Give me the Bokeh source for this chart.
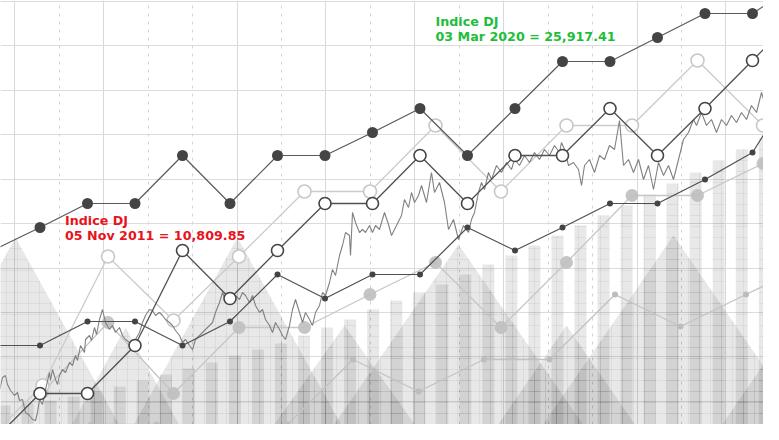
from bokeh.plotting import figure
from bokeh.models import Range1d, Grid, FixedTicker, Label
from bokeh.embed import file_html
from bokeh.resources import INLINE

# ---------------- data ----------------
# time axis positions of the sampled series
x_weekly = [i * 47.5 for i in range(18)]
x_monthly_c = [-15.5 + 65.5 * i for i in range(14)]
x_monthly_e = [50 + 65.5 * i for i in range(13)]
x_monthly_f = [33 + 65.5 * i for i in range(13)]
x_volume = [12 + 23.04 * i for i in range(34)]

# series levels
lev_a = [182, 205, 229, 229, 277, 229, 277, 277, 300, 324, 277, 324, 371, 371, 395, 419, 419, 450]
lev_b = [-9, 39, 39, 87, 182, 134, 182, 229, 229, 277, 229, 277, 277, 324, 277, 324, 372, 420]
lev_d = [87, 87, 111, 111, 87, 111, 158, 134, 158, 158, 205, 182, 205, 229, 229, 253, 280, 355]
lev_c = [-18, 47, 176, 112, 176, 241, 241, 307, 241, 307, 307, 372, 307, 372]
lev_e = [40, 110, 39, 105, 105, 138, 170, 105, 170, 237, 237, 269, 300]
lev_f = [-28, 8, 8, -18, 8, 73, 41, 73, 73, 138, 106, 138, 170]
volume = [27, 29, 32, 36, 41, 46, 52, 58, 64, 70, 77, 83, 89, 97, 105, 113, 123,
          132, 140, 148, 158, 168, 177, 187, 197, 207, 217, 227, 238, 249, 260, 272, 283, 294]

# background "mountains": peak time, peak level, half width
mount_x = [23, 133, 245, 352, 466, 574, 681, 800]
mount_peak = [195, 105, 195, 107, 188, 107, 197, 110]
mount_half = [108, 58, 108, 76, 130, 74, 136, 76]

# daily index (DJ) trace
dj = [(0,43),(3,48),(7,42),(10,55),(13,57),(15,48),(18,42),(22,37),(25,40),(27,32),(30,33),(33,20),
      (37,17),(40,13),(43,12),(45,20),(47,33),(50,28),(53,43),(57,60),(58,52),(60,63),(63,53),(65,48),
      (67,57),(70,63),(73,60),(77,70),(80,67),(83,77),(85,72),(88,87),(92,80),(93,93),(97,97),(99,92),
      (102,105),(104,98),(107,113),(110,123),(113,110),(117,103),(120,107),(123,100),(127,105),(130,97),
      (133,93),(137,90),(140,83),(143,93),(147,100),(150,110),(153,117),(157,123),(160,122),(163,117),
      (167,120),(170,117),(173,113),(177,110),(180,107),(183,102),(187,97),(190,90),(193,93),(197,87),
      (200,83),(203,93),(207,97),(210,100),(213,103),(217,107),(220,110),(223,120),(227,130),(230,140),
      (233,133),(237,137),(240,130),(243,137),(247,133),(250,140),(253,137),(257,130),(260,137),(263,127),
      (267,120),(270,123),(273,113),(277,107),(280,100),(283,110),(287,103),(290,97),(293,93),(297,107),
      (300,123),(303,133),(307,120),(310,110),(313,120),(317,113),(320,107),(323,120),(327,127),(330,140),
      (333,137),(337,150),(340,163),(343,157),(347,177),(350,187),(353,200),(357,197),(358,177),(360,220),
      (363,210),(367,200),(370,203),(373,200),(377,207),(380,200),(383,207),(387,203),(389,210),(392,220),
      (396,208),(399,197),(404,207),(409,217),(412,233),(416,225),(419,240),(422,230),(426,237),(429,247),
      (434,230),(439,260),(442,240),(447,250),(452,230),(456,203),(461,213),(466,193),(471,207),(476,200),
      (479,213),(482,220),(486,240),(489,250),(492,243),(496,260),(499,253),(504,267),(509,260),(514,270),
      (519,263),(522,273),(527,267),(532,277),(537,270),(542,280),(547,273),(552,283),(557,277),(562,287),
      (567,280),(569,290),(572,283),(576,267),(581,270),(586,263),(589,247),(592,267),(597,273),(602,260),
      (607,277),(612,273),(617,287),(622,283),(627,312),(631,267),(636,273),(641,260),(646,273),(651,253),
      (656,267),(661,243),(666,270),(671,257),(676,267),(681,253),(686,273),(691,293),(696,300),(701,313),
      (704,307),(709,320),(714,307),(719,313),(724,300),(729,313),(734,307),(739,317),(744,310),(749,320),
      (754,313),(759,327),(764,320),(769,340),(772,330),(776,340),(779,337)]
dj_x = [a for a, b in dj]
dj_lev = [b for a, b in dj]

grid_solid_x = [22, 111, 245, 333, 422, 511, 645, 733]
grid_dash_x = [67, 156, 200, 289, 378, 467, 556, 600, 689, 778]
grid_y = [431, 387, 342, 298, 253, 209, 164, 120, 76, 31]

label_red = ["Indice DJ", "05 Nov 2011 = 10,809.85"]
label_green = ["Indice DJ", "03 Mar 2020 = 25,917.41"]

# ---------------- figure ----------------
p = figure(width=763, height=424, x_range=Range1d(8, 771), y_range=Range1d(8, 432),
           x_axis_type=None, y_axis_type=None, toolbar_location=None,
           output_backend="svg", min_border=0, outline_line_color=None,
           background_fill_color="white", border_fill_color="white")

p.add_layout(Grid(dimension=0, ticker=FixedTicker(ticks=grid_solid_x),
                  grid_line_color="#d9d9d9", grid_line_width=1))
p.add_layout(Grid(dimension=0, ticker=FixedTicker(ticks=grid_dash_x),
                  grid_line_color="#d3d3d3", grid_line_width=1, grid_line_dash="3 5"))
p.add_layout(Grid(dimension=1, ticker=FixedTicker(ticks=grid_y),
                  grid_line_color="#dcdcdc", grid_line_width=1))

# mountains
mxs = [[mx - h, mx, mx + h] for mx, h in zip(mount_x, mount_half)]
mys = [[0, pk, 0] for pk in mount_peak]
p.patches(mxs, mys, fill_color="black", fill_alpha=0.09, line_color=None,
          hatch_pattern="+", hatch_scale=11, hatch_color="black", hatch_alpha=0.05, hatch_weight=1)

# volume bars
p.vbar(x=x_volume, top=volume, bottom=0, width=12, fill_color="black", fill_alpha=0.09,
       line_color=None, hatch_pattern="+", hatch_scale=11, hatch_color="black",
       hatch_alpha=0.05, hatch_weight=1)

# light series
p.line(x_monthly_f, lev_f, line_color="#c2c2c2", line_width=1.3)
p.scatter(x_monthly_f, lev_f, size=6, fill_color="#bdbdbd", line_color=None)

p.line(x_monthly_e, lev_e, line_color="#c6c6c6", line_width=1.3)
p.scatter(x_monthly_e, lev_e, size=13, fill_color="#bfbfbf", fill_alpha=0.9, line_color=None)

p.line(x_monthly_c, lev_c, line_color="#cbcbcb", line_width=1.3)
p.scatter(x_monthly_c, lev_c, size=13, fill_color="white", line_color="#c8c8c8", line_width=1.6)

# daily index
p.line(dj_x, dj_lev, line_color="#808080", line_width=1.1)

# dark series
p.line(x_weekly, lev_d, line_color="#505050", line_width=1.2)
p.scatter(x_weekly, lev_d, size=6, fill_color="#444444", line_color=None)

p.line(x_weekly, lev_b, line_color="#505050", line_width=1.3)
p.scatter(x_weekly, lev_b, size=12, fill_color="white", line_color="#444444", line_width=1.6)

p.line(x_weekly, lev_a, line_color="#5a5a5a", line_width=1.2)
p.scatter(x_weekly, lev_a, size=11, fill_color="#444444", line_color=None)

# labels
for txt, yy in zip(label_red, [212, 197.5]):
    p.add_layout(Label(x=72.5, y=yy, text=txt, text_font="DejaVu Sans", text_font_style="bold",
                       text_font_size="12.7px", text_color="#e8141c", text_baseline="alphabetic"))
for txt, yy in zip(label_green, [411, 396.5]):
    p.add_layout(Label(x=443, y=yy, text=txt, text_font="DejaVu Sans", text_font_style="bold",
                       text_font_size="12.7px", text_color="#1ebe3a", text_baseline="alphabetic"))

open("out.html", "w").write(file_html(p, INLINE))
